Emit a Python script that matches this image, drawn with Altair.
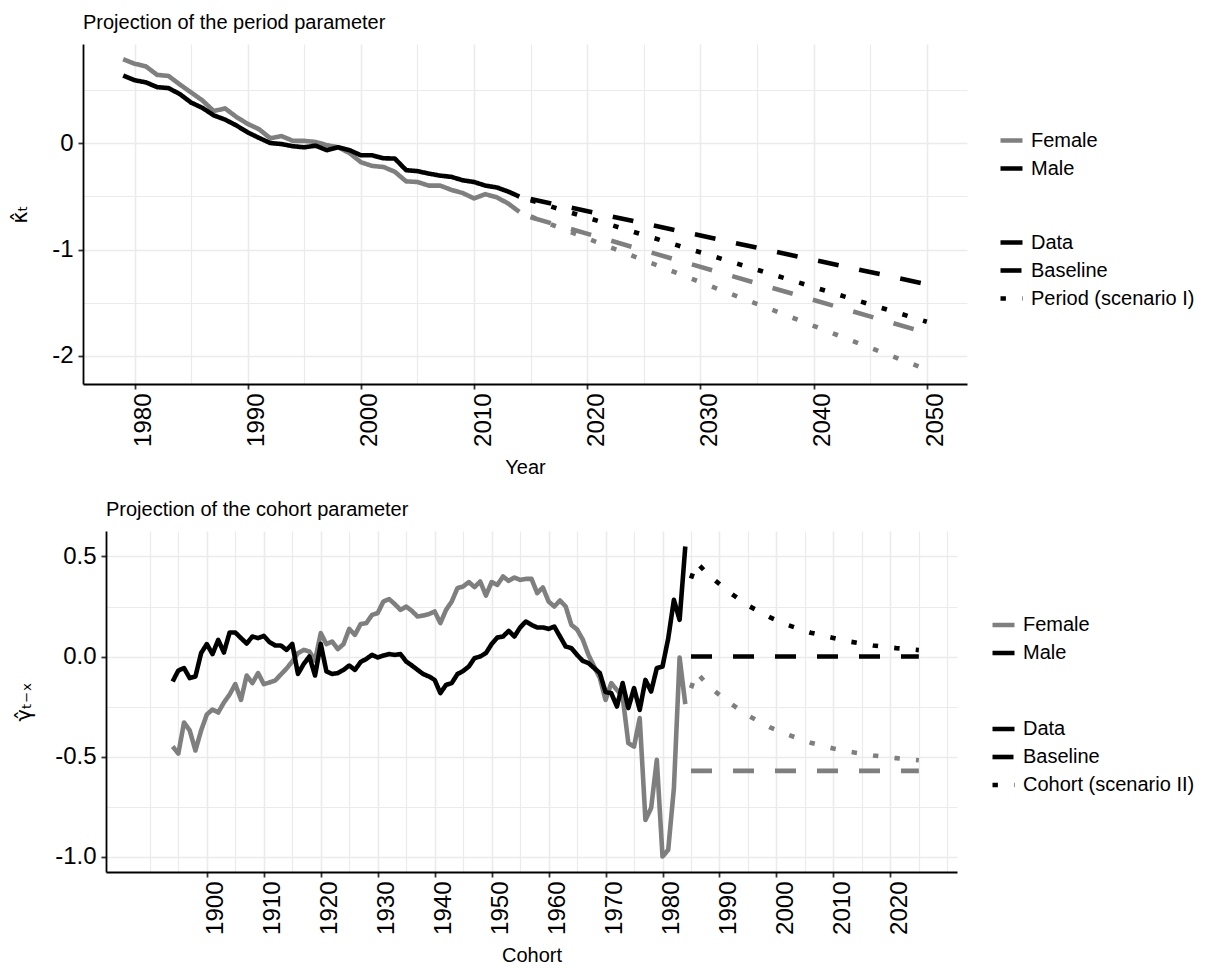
import altair as alt
import pandas as pd

# ---------------- Period parameter (kappa_t) ----------------
period_years = list(range(1979, 2015))
kappa_female = [0.787, 0.745, 0.72, 0.64, 0.63, 0.55, 0.475, 0.40, 0.30, 0.325,
                0.245, 0.18, 0.13, 0.045, 0.065, 0.02, 0.02, 0.01, -0.02, -0.04,
                -0.095, -0.18, -0.215, -0.225, -0.27, -0.36, -0.366, -0.40, -0.40, -0.44,
                -0.47, -0.52, -0.48, -0.51, -0.567, -0.646]
kappa_male = [0.634, 0.59, 0.57, 0.525, 0.516, 0.46, 0.38, 0.33, 0.26, 0.22,
              0.165, 0.10, 0.048, 0.0, -0.01, -0.03, -0.04, -0.025, -0.067, -0.04,
              -0.067, -0.115, -0.115, -0.143, -0.146, -0.255, -0.264, -0.287, -0.306, -0.318,
              -0.35, -0.366, -0.40, -0.417, -0.455, -0.503]
period_proj_years = [2015, 2050]
kappa_female_baseline = [-0.697, -1.784]
kappa_male_baseline = [-0.526, -1.326]
kappa_female_scen1 = [-0.69, -2.128]
kappa_male_scen1 = [-0.538, -1.679]

# ---------------- Cohort parameter (gamma_{t-x}) ----------------
cohort_years = list(range(1894, 1985))
gamma_male = [-0.125, -0.07, -0.058, -0.108, -0.1, 0.017, 0.062, 0.012, 0.083, 0.02,
              0.12, 0.12, 0.092, 0.065, 0.1, 0.092, 0.103, 0.072, 0.055, 0.055,
              0.033, 0.063, -0.087, -0.038, 0.0, -0.095, 0.063, -0.075, -0.087, -0.083,
              -0.067, -0.045, -0.067, -0.028, -0.012, 0.008, -0.005, 0.005, 0.012, 0.008,
              0.012, -0.025, -0.045, -0.067, -0.088, -0.1, -0.117, -0.183, -0.142, -0.133,
              -0.088, -0.072, -0.05, -0.008, 0.0, 0.017, 0.062, 0.095, 0.1, 0.128,
              0.1, 0.145, 0.175, 0.158, 0.145, 0.145, 0.138, 0.15, 0.1, 0.05,
              0.042, 0.008, -0.022, -0.033, -0.058, -0.083, -0.178, -0.183, -0.25, -0.133,
              -0.258, -0.158, -0.267, -0.117, -0.175, -0.058, -0.05, 0.09, 0.283, 0.183,
              0.55]
gamma_female = [-0.45, -0.485, -0.33, -0.37, -0.47, -0.37, -0.29, -0.265, -0.28, -0.23,
                -0.19, -0.138, -0.217, -0.095, -0.133, -0.083, -0.138, -0.13, -0.12, -0.09,
                -0.06, -0.025, 0.017, 0.033, 0.025, -0.02, 0.117, 0.062, 0.075, 0.037,
                0.062, 0.138, 0.108, 0.162, 0.167, 0.208, 0.217, 0.275, 0.287, 0.262,
                0.233, 0.25, 0.228, 0.2, 0.205, 0.212, 0.225, 0.167, 0.233, 0.275,
                0.342, 0.35, 0.372, 0.347, 0.375, 0.305, 0.372, 0.358, 0.4, 0.378,
                0.395, 0.383, 0.388, 0.388, 0.317, 0.345, 0.275, 0.25, 0.28, 0.25,
                0.158, 0.135, 0.085, 0.008, -0.05, -0.108, -0.217, -0.133, -0.167, -0.2,
                -0.433, -0.45, -0.308, -0.817, -0.758, -0.517, -1.0, -0.967, -0.658, -0.005,
                -0.238]
cohort_proj_years = [1985, 2025]
gamma_female_baseline = [-0.572, -0.572]
gamma_male_baseline = [0.0, 0.0]
scen2_years = [1985, 1986, 1988, 1990, 1992, 1995, 1999, 2002, 2006, 2010, 2013, 2017, 2021, 2025]
gamma_male_scen2 = [0.39, 0.47, 0.41, 0.362, 0.316, 0.255, 0.194, 0.157, 0.119, 0.093,
                    0.074, 0.055, 0.042, 0.032]
gamma_female_scen2 = [-0.158, -0.08, -0.145, -0.192, -0.236, -0.295, -0.356, -0.391, -0.431, -0.46,
                      -0.477, -0.495, -0.508, -0.519]

sexes = ["Female", "Male"]
sex_colors = ["#7f7f7f", "#000000"]


def block(xs, ys, sex, typ):
    return pd.DataFrame({"x": xs, "y": ys, "sex": sex, "type": typ})


types_top = ["Data", "Baseline", "Period (scenario I)"]
types_bot = ["Data", "Baseline", "Cohort (scenario II)"]
dash_range = [[1, 0], [21, 21], [5.4, 16.2]]

top_df = pd.concat([
    block(period_years, kappa_female, "Female", "Data"),
    block(period_years, kappa_male, "Male", "Data"),
    block(period_proj_years, kappa_female_baseline, "Female", "Baseline"),
    block(period_proj_years, kappa_male_baseline, "Male", "Baseline"),
    block(period_proj_years, kappa_female_scen1, "Female", types_top[2]),
    block(period_proj_years, kappa_male_scen1, "Male", types_top[2]),
], ignore_index=True)

bot_df = pd.concat([
    block(cohort_years, gamma_female, "Female", "Data"),
    block(cohort_years, gamma_male, "Male", "Data"),
    block(cohort_proj_years, gamma_female_baseline, "Female", "Baseline"),
    block(cohort_proj_years, gamma_male_baseline, "Male", "Baseline"),
    block(scen2_years, gamma_female_scen2, "Female", types_bot[2]),
    block(scen2_years, gamma_male_scen2, "Male", types_bot[2]),
], ignore_index=True)

FONT = "Liberation Sans"
LW = 4.6


def legend_common(x, y, **kw):
    return alt.Legend(title=None, orient="none", legendX=x, legendY=y,
                      symbolType="stroke", symbolSize=484, symbolStrokeWidth=LW,
                      labelFontSize=20, labelFont=FONT, labelColor="black", labelLimit=400,
                      labelOffset=6, rowPadding=4, padding=0, **kw)


def panel(df, types, xdom, ydom, xvals, xmajor_test, yvals, ymajor_test, ylabel_fmt,
          xtitle, ytitle, title, w, shift, h, lx, ly1, ly2, ytpad):
    x_minor = f"!({xmajor_test})"
    y_minor = f"!({ymajor_test})"
    total_w = w + shift
    return alt.Chart(df).mark_line(strokeWidth=LW, strokeCap="butt", strokeJoin="round").encode(
        x=alt.X("x:Q", scale=alt.Scale(domain=xdom, nice=False, zero=False, range=[shift, total_w]),
                axis=alt.Axis(values=xvals, title=xtitle, format="d",
                              labelExpr=f"({xmajor_test}) ? format(datum.value, 'd') : ''",
                              labelAngle=270, labelPadding=4, labelOffset=9,
                              tickOpacity={"condition": {"test": x_minor, "value": 0}, "value": 1},
                              gridWidth={"condition": {"test": x_minor, "value": 1.2}, "value": 1.6},
                              titlePadding=11, titleX=shift + w / 2)),
        y=alt.Y("y:Q", scale=alt.Scale(domain=ydom, nice=False, zero=False),
                axis=alt.Axis(values=yvals, title=ytitle, titleFont="DejaVu Sans", titleFontSize=21,
                              labelExpr=f"({ymajor_test}) ? (datum.value < 0 ? '-' + format(-datum.value, '{ylabel_fmt}') : format(datum.value, '{ylabel_fmt}')) : ''",
                              labelPadding=5, offset=-shift,
                              tickOpacity={"condition": {"test": y_minor, "value": 0}, "value": 1},
                              gridWidth={"condition": {"test": y_minor, "value": 1.2}, "value": 1.6},
                              titlePadding=ytpad)),
        color=alt.Color("sex:N", scale=alt.Scale(domain=sexes, range=sex_colors),
                        legend=legend_common(lx, ly1, symbolDash=[1, 0])),
        strokeDash=alt.StrokeDash("type:N", scale=alt.Scale(domain=types, range=dash_range),
                                  legend=legend_common(lx, ly2, symbolStrokeColor="black")),
        detail="type:N",
    ).properties(
        width=total_w, height=h,
        title=alt.TitleParams(title, anchor="start", frame="group", fontSize=20, font=FONT,
                              fontWeight="normal", color="black", baseline="alphabetic",
                              offset=-5, dx=shift),
    )


top = panel(top_df, types_top, [1975.45, 2053.55], [-2.263, 0.93],
            list(range(1980, 2051, 5)), "datum.value % 10 == 0",
            [-2, -1.5, -1, -0.5, 0, 0.5], "abs(datum.value - round(datum.value)) < 0.01", "d",
            "Year", "κ̂ₜ", "Projection of the period parameter", 884, 0, 340, 915, 83, 185, 21)

bottom = panel(bot_df, types_bot, [1882.3, 2031.7], [-1.0775, 0.6275],
               list(range(1890, 2031, 5)),
               "datum.value % 10 == 0 && datum.value >= 1900 && datum.value <= 2020",
               [-1, -0.75, -0.5, -0.25, 0, 0.25, 0.5],
               "abs(datum.value * 2 - round(datum.value * 2)) < 0.01", ".1f",
               "Cohort", "γ̂ₜ₋ₓ", "Projection of the cohort parameter", 851, 23, 341, 907, 80.5, 184.5, 20)

chart = alt.ConcatChart(concat=[top, bottom], columns=1, spacing=22).resolve_scale(
    color="independent", strokeDash="independent"
).resolve_legend(
    color="independent", strokeDash="independent"
).configure_view(
    stroke=None
).configure_axis(
    labelFont=FONT, labelFontSize=24, labelColor="black",
    titleFont=FONT, titleFontSize=20, titleFontWeight="normal", titleColor="black",
    gridColor="#ebebeb", domainColor="black", domainWidth=1.8,
    tickColor="#333333", tickWidth=1.8, tickSize=5,
).properties(background="white", padding={"left": 1, "top": 5, "right": 0, "bottom": 0})

chart.save("out.html", embed_options={"renderer": "svg", "actions": False})
